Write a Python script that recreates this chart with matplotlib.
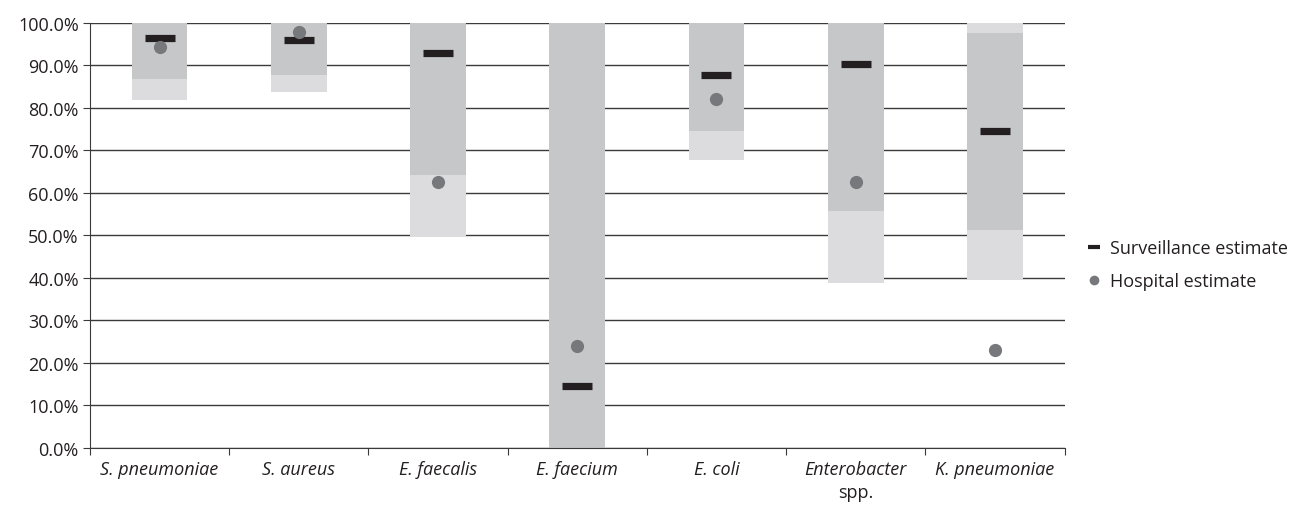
import numpy as np
import matplotlib
matplotlib.use("Agg")
import matplotlib.pyplot as plt
from matplotlib.lines import Line2D
from matplotlib.transforms import blended_transform_factory

plt.rcParams['font.family'] = ['Open Sans', 'DejaVu Sans']

# data (percent)
organisms = ['S. pneumoniae', 'S. aureus', 'E. faecalis', 'E. faecium',
             'E. coli', 'Enterobacter', 'K. pneumoniae']
outer_low = [81.9, 83.7, 49.6, 0.0, 67.8, 38.8, 39.5]
outer_high = [100.0, 100.0, 100.0, 100.0, 100.0, 100.0, 100.0]
inner_low = [86.8, 87.8, 64.2, 0.0, 74.6, 55.8, 51.3]
inner_high = [100.0, 100.0, 100.0, 100.0, 100.0, 100.0, 97.6]
surveillance = [96.5, 95.9, 93.0, 14.5, 87.8, 90.3, 74.6]
hospital = [94.3, 97.8, 62.5, 24.0, 82.1, 62.6, 23.0]

light = '#dcdcde'
dark = '#c6c7c9'
dash_col = '#231f20'
dot_col = '#77787b'
fs = 13

fig = plt.figure(figsize=(13.03, 5.06), dpi=100)
ax = fig.add_axes([0.069, 0.113, 0.748, 0.840])

x = np.arange(len(organisms))
w = 0.4

# grid lines behind everything
for v in range(0, 101, 10):
    ax.axhline(v, color='#3a3a3a', lw=1.0, zorder=0)

ax.bar(x, np.array(outer_high) - np.array(outer_low), bottom=outer_low,
       width=w, color=light, zorder=1)
ax.bar(x, np.array(inner_high) - np.array(inner_low), bottom=inner_low,
       width=w, color=dark, zorder=2)

ax.plot(x, surveillance, ls='none', marker='_', ms=21, mew=5.2,
        color=dash_col, zorder=3)
ax.plot(x, hospital, ls='none', marker='o', ms=9.5, color=dot_col,
        mec='none', zorder=4)

ax.set_xlim(-0.5, len(organisms) - 0.5)
ax.set_ylim(0, 100)
ax.set_yticks(np.arange(0, 101, 10))
ax.set_yticklabels(['%.1f%%' % v for v in range(0, 101, 10)], fontsize=fs,
                   color='#231f20')

# x ticks at category boundaries, labels centred
ax.set_xticks(np.arange(-0.5, len(organisms)), minor=False)
ax.set_xticklabels([])
ax.set_xticks(x, minor=True)
ax.set_xticklabels(organisms, minor=True, fontsize=fs, style='italic',
                   color='#231f20')
ax.tick_params(axis='x', which='minor', length=0, pad=9)
ax.tick_params(axis='x', which='major', length=5, direction='out',
               color='#3a3a3a')
ax.tick_params(axis='y', length=5, color='#3a3a3a', pad=3)

trans = blended_transform_factory(ax.transData, ax.transAxes)
ax.annotate('spp.', xy=(5, 0), xycoords=trans, xytext=(0, -25),
            textcoords='offset points', ha='center', va='top',
            fontsize=fs, color='#231f20')

for s in ['top', 'right']:
    ax.spines[s].set_visible(False)
ax.spines['left'].set_color('#3a3a3a')
ax.spines['bottom'].set_color('#3a3a3a')

handles = [
    Line2D([], [], ls='none', marker='_', ms=9, mew=3, color=dash_col),
    Line2D([], [], ls='none', marker='o', ms=7, color=dot_col, mec='none'),
]
fig.legend(handles, ['Surveillance estimate', 'Hospital estimate'],
           loc='center left', bbox_to_anchor=(0.823, 0.475), frameon=False,
           fontsize=fs, handlelength=0.6, handletextpad=0.6,
           labelspacing=0.8, labelcolor='#231f20')

fig.savefig('out.png', dpi=100)
